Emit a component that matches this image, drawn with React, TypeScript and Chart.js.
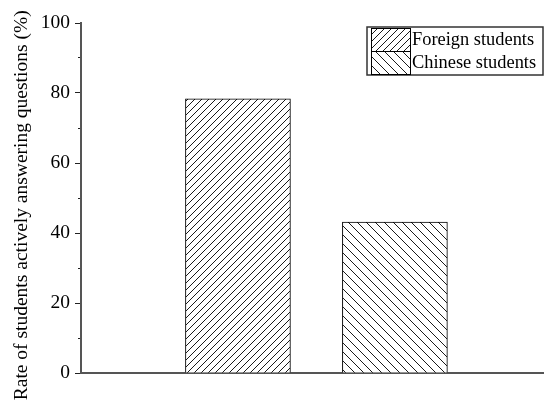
import { useEffect, useRef } from 'react';
import { Chart, registerables } from 'chart.js';

Chart.register(...registerables);

const groups = ['Foreign students', 'Chinese students'];
const positions = [1, 2];
const rates = [78.3, 43.1];
const yLabelStep = 20;

const FONT = '"Liberation Serif", "Times New Roman", serif';

function hatch(period: number, dir: 'up' | 'down'): CanvasPattern {
  const c = document.createElement('canvas');
  c.width = period;
  c.height = period;
  const g = c.getContext('2d')!;
  g.fillStyle = '#fff';
  g.fillRect(0, 0, period, period);
  g.strokeStyle = '#1a1a1a';
  g.lineWidth = 1;
  g.beginPath();
  for (const o of [-period, 0, period]) {
    if (dir === 'up') {
      g.moveTo(o, period);
      g.lineTo(o + period, 0);
    } else {
      g.moveTo(o, 0);
      g.lineTo(o + period, period);
    }
  }
  g.stroke();
  return g.createPattern(c, 'repeat')!;
}

const legendPlugin = {
  id: 'boxLegend',
  afterDraw(chart: any) {
    const { ctx, chartArea } = chart;
    const w = 176;
    const h = 48;
    const x = chartArea.right - w - 1;
    const y = chartArea.top + 4;
    ctx.save();
    ctx.fillStyle = '#fff';
    ctx.fillRect(x, y, w, h);
    ctx.strokeStyle = '#333';
    ctx.lineWidth = 1.5;
    ctx.strokeRect(x, y, w, h);
    chart.data.datasets.forEach((ds: any, i: number) => {
      const sy = y + 1 + i * 23;
      ctx.fillStyle = ds.backgroundColor;
      ctx.fillRect(x + 4, sy, 39, 23);
      ctx.strokeStyle = '#000';
      ctx.lineWidth = 1;
      ctx.strokeRect(x + 4.5, sy + 0.5, 39, 23);
      ctx.fillStyle = '#000';
      ctx.font = '18.4px ' + FONT;
      ctx.textBaseline = 'middle';
      ctx.textAlign = 'left';
      ctx.fillText(ds.label, x + 45, sy + 12);
    });
    ctx.restore();
  },
};

export default function App() {
  const ref = useRef<HTMLCanvasElement>(null);

  useEffect(() => {
    const canvas = ref.current!;
    const patterns = [hatch(7, 'up'), hatch(9, 'down')];
    const chart = new Chart(canvas, {
      type: 'bar',
      data: {
        datasets: groups.map((g, i) => ({
          label: g,
          data: [{ x: positions[i], y: rates[i] }],
          backgroundColor: patterns[i],
          borderColor: '#000',
          borderWidth: 1,
          barThickness: 105,
          grouped: false,
        })),
      },
      options: {
        animation: false,
        responsive: false,
        maintainAspectRatio: false,
        layout: { padding: { top: 23, bottom: 33, left: 0, right: 0 } },
        plugins: {
          legend: { display: false },
          tooltip: { enabled: false },
        },
        scales: {
          x: {
            type: 'linear',
            offset: false,
            min: 0,
            max: 2.95,
            ticks: { display: false },
            grid: { display: false, drawTicks: false, offset: false },
            border: { color: '#555', width: 2 },
          },
          y: {
            min: 0,
            max: 100,
            ticks: {
              stepSize: 10,
              autoSkip: false,
              padding: 5,
              color: '#000',
              font: { family: FONT, size: 19.5 },
              callback: (v: any) => (Number(v) % yLabelStep === 0 ? String(v) : ''),
            },
            grid: {
              drawOnChartArea: false,
              tickLength: 6,
              tickColor: '#222',
              tickWidth: 1,
              tickBorderDash: (ctx: any) =>
                ctx.tick && ctx.tick.value % yLabelStep !== 0 ? [0, 3, 3, 100] : [],
            },
            border: { color: '#555', width: 2 },
            title: {
              display: true,
              text: 'Rate of students actively answering questions (%)   ',
              color: '#000',
              font: { family: FONT, size: 19.5 },
              padding: { top: 10, bottom: 0 },
            },
            afterFit: (s: any) => {
              s.width = 81;
            },
          },
        },
      },
      plugins: [legendPlugin],
    } as any);
    return () => chart.destroy();
  }, []);

  return (
    <div style={{ position: 'fixed', left: 0, top: 0, width: 544, height: 406, background: '#fff' }}>
      <canvas ref={ref} width={544} height={406} style={{ display: 'block' }} />
    </div>
  );
}
